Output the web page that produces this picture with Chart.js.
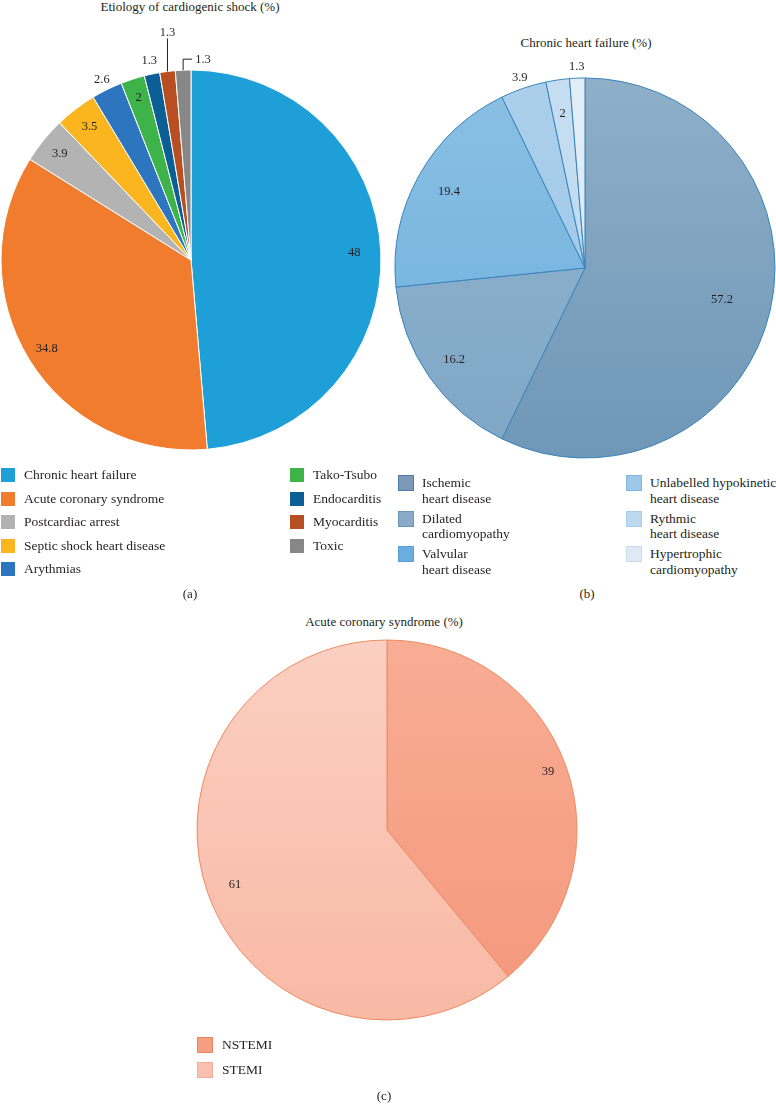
<!DOCTYPE html>
<html>
<head>
<meta charset="utf-8">
<script src="https://cdn.jsdelivr.net/npm/chart.js"></script>
<style>
body{ margin:0; background:#fff; }
#page{ position:relative; width:776px; height:1114px; font-family:"Liberation Serif","Times New Roman",serif; color:#231f20; }
.box{ position:absolute; }
.title{ position:absolute; font-size:13px; transform:translateX(-50%); white-space:nowrap; line-height:14px; }
.cap{ position:absolute; font-size:13px; transform:translateX(-50%); line-height:14px; }
.lg{ position:absolute; font-size:13.5px; line-height:15.5px; white-space:nowrap; }
.sw{ position:absolute; box-sizing:border-box; }
</style>
</head>
<body>
<div id="page">
	<div class="title" style="left:190px; top:0px;">Etiology of cardiogenic shock (%)</div>
	<div class="title" style="left:586px; top:36px;">Chronic heart failure (%)</div>
	<div class="title" style="left:384px; top:615px;">Acute coronary syndrome (%)</div>

	<div class="box" style="left:0; top:0; width:390px; height:470px;"><canvas id="pieA"></canvas></div>
	<div class="box" style="left:390px; top:30px; width:386px; height:440px;"><canvas id="pieB"></canvas></div>
	<div class="box" style="left:180px; top:620px; width:420px; height:420px;"><canvas id="pieC"></canvas></div>

	<div id="legendA"></div>
	<div id="legendB"></div>
	<div id="legendC"></div>

	<div class="cap" style="left:190px; top:587px;">(a)</div>
	<div class="cap" style="left:587px; top:587px;">(b)</div>
	<div class="cap" style="left:384px; top:1089px;">(c)</div>
</div>

<script>
// ---- data ----
var etioLabels = ["Chronic heart failure", "Acute coronary syndrome", "Postcardiac arrest", "Septic shock heart disease", "Arythmias", "Tako-Tsubo", "Endocarditis", "Myocarditis", "Toxic"];
var etioValues = [48, 34.8, 3.9, 3.5, 2.6, 2, 1.3, 1.3, 1.3];

var chfLabels = ["Ischemic heart disease", "Dilated cardiomyopathy", "Valvular heart disease", "Unlabelled hypokinetic heart disease", "Rythmic heart disease", "Hypertrophic cardiomyopathy"];
var chfValues = [57.2, 16.2, 19.4, 3.9, 2, 1.3];

var acsLabels = ["NSTEMI", "STEMI"];
var acsValues = [39, 61];

// ---- styles ----
var etioColors = ["#1f9fd8", "#f27c2e", "#b3b3b3", "#fbb61f", "#2e75c0", "#3db34a", "#0b5f95", "#b84f22", "#878787"];
var chfColors = [["#8fb0c9", "#6e96b6"], ["#92b5d0", "#7ea6c5"], ["#8cc0e3", "#6aafdf"], ["#acd0eb", "#98c5e8"], ["#c6def1", "#b9d7ef"], ["#e2edf7", "#d9e7f4"]];
var chfSwatch = [["#7a9ab8", "#4e7ca4"], ["#89aac8", "#6a95bb"], ["#6aaedf", "#5b9fd0"], ["#9dc8ea", "#7fb5e0"], ["#bcd9f0", "#a8cdeb"], ["#dee9f5", "#c9dcee"]];
var acsColors = [["#f8ae95", "#f4967a"], ["#fbd0c3", "#f8b8a3"]];
var acsSwatch = [["#f59f82", "#e7865f"], ["#f9c0ad", "#f2ad98"]];

// label placement (fraction of radius), leader lines for thin slices
var etioLabelPos = [0.86, 0.89, 0.89, 0.88, 1.06, 0.9, 1.07, {up: 33}, {bracket: 11}];
var chfLabelPos = [0.74, 0.84, 0.82, 1.06, 0.82, 1.06];
var acsLabelPos = [0.9, 0.85];

function vGradient(pairs) {
	return function(ctx) {
		var chart = ctx.chart;
		var a = chart.chartArea;
		if (!a) return pairs[ctx.dataIndex][0];
		var g = chart.ctx.createLinearGradient(0, a.top, 0, a.bottom);
		g.addColorStop(0, pairs[ctx.dataIndex][0]);
		g.addColorStop(1, pairs[ctx.dataIndex][1]);
		return g;
	};
}

var valueLabels = {
	id: "valueLabels",
	afterDatasetsDraw: function(chart) {
		var ctx = chart.ctx;
		var pos = chart.options.plugins.valueLabels.pos;
		var meta = chart.getDatasetMeta(0);
		var vals = chart.data.datasets[0].data;
		ctx.save();
		ctx.font = "12.5px 'Liberation Serif', serif";
		ctx.fillStyle = "#231f20";
		ctx.strokeStyle = "#231f20";
		ctx.lineWidth = 1;
		ctx.textBaseline = "middle";
		meta.data.forEach(function(arc, i) {
			var p = arc.getProps(["x", "y", "startAngle", "endAngle", "outerRadius"], true);
			var mid = (p.startAngle + p.endAngle) / 2;
			var txt = String(vals[i]);
			var pl = pos[i];
			if (typeof pl === "number") {
				ctx.textAlign = "center";
				ctx.fillText(txt, p.x + Math.cos(mid) * p.outerRadius * pl, p.y + Math.sin(mid) * p.outerRadius * pl);
				return;
			}
			var ex = p.x + Math.cos(mid) * p.outerRadius;
			var ey = p.y + Math.sin(mid) * p.outerRadius;
			ctx.beginPath();
			if (pl.up) {
				ctx.moveTo(ex, ey);
				ctx.lineTo(ex, ey - pl.up);
				ctx.stroke();
				ctx.textAlign = "center";
				ctx.fillText(txt, ex, ey - pl.up - 6);
			} else {
				ctx.moveTo(ex, ey);
				ctx.lineTo(ex, ey - pl.bracket);
				ctx.lineTo(ex + 9, ey - pl.bracket);
				ctx.stroke();
				ctx.textAlign = "left";
				ctx.fillText(txt, ex + 12, ey - pl.bracket + 1);
			}
		});
		ctx.restore();
	}
};

function makePie(id, labels, values, bg, border, bw, pad, pos) {
	return new Chart(document.getElementById(id), {
		type: "pie",
		data: {
			labels: labels,
			datasets: [{
				data: values,
				backgroundColor: bg,
				borderColor: border,
				borderWidth: bw,
				hoverOffset: 0
			}]
		},
		options: {
			responsive: true,
			maintainAspectRatio: false,
			animation: false,
			radius: 190,
			layout: { padding: pad },
			events: [],
			plugins: {
				legend: { display: false },
				tooltip: { enabled: false },
				valueLabels: { pos: pos }
			}
		},
		plugins: [valueLabels]
	});
}

makePie("pieA", etioLabels, etioValues, etioColors, "#ffffff", 1, {left: 0, right: 8, top: 50, bottom: 0}, etioLabelPos);
makePie("pieB", chfLabels, chfValues, vGradient(chfColors), "#3a84bb", 1, {left: 4, right: 0, top: 36, bottom: 0}, chfLabelPos);
makePie("pieC", acsLabels, acsValues, vGradient(acsColors), "#ef8a60", 1, {left: 0, right: 6, top: 0, bottom: 0}, acsLabelPos);

// ---- legends ----
function addLegend(el, items) {
	var html = "";
	items.forEach(function(it) {
		html += '<div class="sw" style="left:' + it.x + 'px; top:' + it.y + 'px; width:' + it.s + 'px; height:' + it.s + 'px; background:' + it.fill + ';' + (it.stroke ? ' border:1px solid ' + it.stroke + ';' : '') + '"></div>';
		html += '<div class="lg" style="left:' + it.tx + 'px; top:' + it.ty + 'px;">' + it.text + '</div>';
	});
	document.getElementById(el).innerHTML = html;
}

var legA = [];
etioLabels.forEach(function(l, i) {
	var col = i < 5 ? 0 : 1;
	var row = i < 5 ? i : i - 5;
	var x = col ? 290 : 1;
	var y = 468 + row * 23.5;
	legA.push({x: x, y: y, s: 14, fill: etioColors[i], tx: x + 23, ty: y - 1, text: l});
});
addLegend("legendA", legA);

var chfLegendText = ["Ischemic<br>heart disease", "Dilated<br>cardiomyopathy", "Valvular<br>heart disease", "Unlabelled hypokinetic<br>heart disease", "Rythmic<br>heart disease", "Hypertrophic<br>cardiomyopathy"];
var legB = [];
chfLegendText.forEach(function(t, i) {
	var col = i < 3 ? 0 : 1;
	var row = i % 3;
	var x = col ? 626 : 398;
	var y = 475 + row * 35.5;
	legB.push({x: x, y: y, s: 16, fill: chfSwatch[i][0], stroke: chfSwatch[i][1], tx: x + 24, ty: y, text: t});
});
addLegend("legendB", legB);

var legC = [];
acsLabels.forEach(function(l, i) {
	var y = 1037 + i * 25;
	legC.push({x: 197, y: y, s: 16, fill: acsSwatch[i][0], stroke: acsSwatch[i][1], tx: 222, ty: y, text: l});
});
addLegend("legendC", legC);
</script>
</body>
</html>
